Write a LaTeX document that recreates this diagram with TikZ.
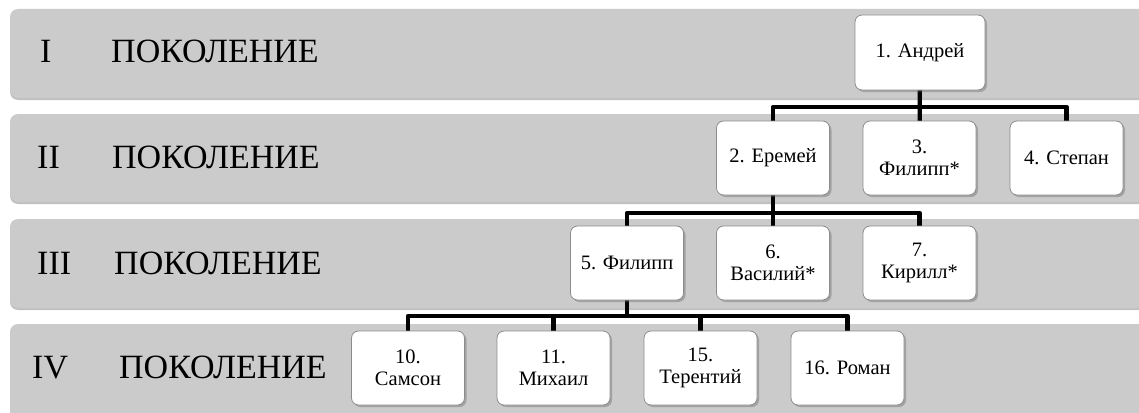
\documentclass[tikz,border=0pt]{standalone}
\usepackage{fontspec}
\setmainfont{Liberation Serif}
\usetikzlibrary{shadows}
\definecolor{bandgray}{HTML}{CBCBCB}
\definecolor{boxline}{HTML}{8C8C8C}
\begin{document}
\begin{tikzpicture}[x=1pt,y=-1pt,
  band/.style={fill=bandgray, rounded corners=8pt,
    drop shadow={shadow xshift=0pt, shadow yshift=-2pt, opacity=0.35, fill=black!70}},
  gen/.style={anchor=base west, inner sep=0pt, font=\fontsize{34}{40}\selectfont},
  person/.style={draw=boxline, line width=0.8pt, fill=white, rounded corners=7pt,
    minimum width=113pt, minimum height=74pt, align=center, inner sep=2pt,
    font=\fontsize{20.5}{22}\selectfont,
    drop shadow={shadow xshift=2pt, shadow yshift=-2pt, opacity=0.4, fill=black!60}},
  link/.style={line width=4.3pt, line join=round, draw=black}
]
\useasboundingbox (0,0) rectangle (1139,412);
% bands
\path[band] (10,9) rectangle (1170,98);
\path[band] (10,114) rectangle (1170,202);
\path[band] (10,219) rectangle (1170,308);
\path[band] (10,324) rectangle (1170,440);
% generation labels
\node[gen] (r1) at (40,63) {I};
\node[gen] (w1) at (111,63) {ПОКОЛЕНИЕ};
\node[gen] (r2) at (37,168) {II};
\node[gen] (w2) at (112,168) {ПОКОЛЕНИЕ};
\node[gen] (r3) at (37,274) {III};
\node[gen] (w3) at (114,274) {ПОКОЛЕНИЕ};
\node[gen] (r4) at (32,378) {IV};
\node[gen] (w4) at (119,378) {ПОКОЛЕНИЕ};
% coordinates of persons
\coordinate (p1) at (920,52.5);
\coordinate (p2) at (773,158);
\coordinate (p3) at (919.5,158);
\coordinate (p4) at (1066.5,158);
\coordinate (p5) at (627,263);
\coordinate (p6) at (773,263);
\coordinate (p7) at (919.5,263);
\coordinate (p10) at (408,368);
\coordinate (p11) at (553.5,368);
\coordinate (p15) at (700.5,368);
\coordinate (p16) at (847.5,368);
\coordinate (bar1) at (0,107);
\coordinate (bar2) at (0,213);
\coordinate (bar3) at (0,316);
% connectors
\draw[link] (p1) -- (p3);
\draw[link] (p2) -- (p2 |- bar1) -- (p4 |- bar1) -- (p4);
\draw[link] (p2) -- (p6);
\draw[link] (p5) -- (p5 |- bar2) -- (p7 |- bar2) -- (p7);
\draw[link] (p5) -- (p5 |- bar3);
\draw[link] (p10) -- (p10 |- bar3) -- (p16 |- bar3) -- (p16);
\draw[link] (p11 |- bar3) -- (p11);
\draw[link] (p15 |- bar3) -- (p15);
% persons
\node[person, minimum width=130pt, minimum height=75pt] (n1) at (p1) {1. Андрей};
\node[person] (n2) at (p2) {2. Еремей};
\node[person] (n3) at (p3) {3.\\Филипп*};
\node[person] (n4) at (p4) {4. Степан};
\node[person] (n5) at (p5) {5. Филипп};
\node[person] (n6) at (p6) {6.\\Василий*};
\node[person] (n7) at (p7) {7.\\Кирилл*};
\node[person] (n10) at (p10) {10.\\Самсон};
\node[person] (n11) at (p11) {11.\\Михаил};
\node[person] (n15) at (p15) {15.\\Терентий};
\node[person] (n16) at (p16) {16. Роман};
\end{tikzpicture}
\end{document}
